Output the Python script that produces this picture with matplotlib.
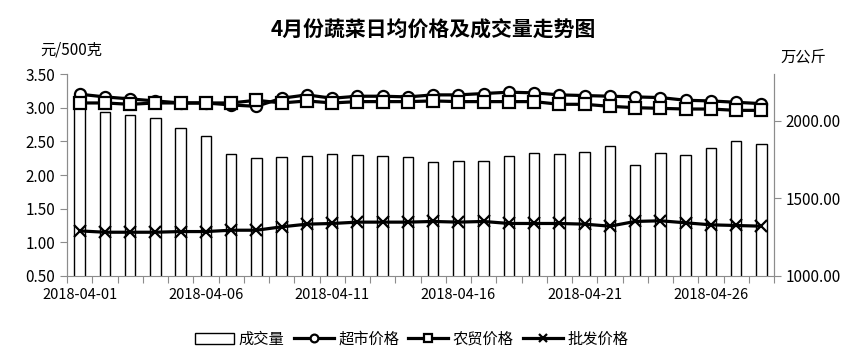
import numpy as np
import pandas as pd
import matplotlib
matplotlib.use("Agg")
import matplotlib.pyplot as plt

plt.rcParams['font.family'] = ['Noto Sans CJK SC', 'DejaVu Sans']

# 日期 (2018-04-01 ~ 2018-04-28)
fechas = pd.date_range("2018-04-01", "2018-04-28").strftime("%Y-%m-%d").tolist()

# 成交量 (万公斤)
volumen = [2110, 2057, 2034, 2015, 1950, 1899, 1783, 1757, 1764, 1770,
           1783, 1777, 1770, 1764, 1732, 1738, 1738, 1770, 1790, 1783,
           1796, 1835, 1712, 1792, 1777, 1822, 1867, 1848]

# 超市价格 (元/500克)
supermercado = [3.20, 3.16, 3.13, 3.10, 3.07, 3.07, 3.04, 3.02, 3.14, 3.19,
                3.14, 3.17, 3.17, 3.16, 3.19, 3.19, 3.21, 3.23, 3.22, 3.19,
                3.18, 3.17, 3.16, 3.15, 3.11, 3.10, 3.08, 3.06]

# 农贸价格
mercado = [3.07, 3.07, 3.05, 3.07, 3.07, 3.07, 3.07, 3.11, 3.07, 3.10,
           3.07, 3.09, 3.09, 3.09, 3.10, 3.09, 3.09, 3.09, 3.09, 3.05,
           3.05, 3.02, 3.00, 2.99, 2.98, 2.98, 2.96, 2.96]

# 批发价格
mayorista = [1.17, 1.15, 1.15, 1.15, 1.16, 1.16, 1.18, 1.18, 1.23, 1.27,
             1.28, 1.30, 1.30, 1.30, 1.31, 1.30, 1.31, 1.28, 1.28, 1.28,
             1.27, 1.24, 1.31, 1.32, 1.29, 1.26, 1.25, 1.24]

etiquetas = [f if i % 5 == 0 else "" for i, f in enumerate(fechas)]

gris = "#8c8c8c"
x = np.arange(len(fechas))

fig = plt.figure(figsize=(8.66, 3.57), dpi=100)
ax = fig.add_axes([0.0774, 0.2269, 0.8164, 0.5658])
ax2 = ax.twinx()

# barras en el eje derecho, detrás de las lineas
ax2.set_zorder(1)
ax.set_zorder(2)
ax.patch.set_visible(False)

barras = ax2.bar(x, volumen, width=0.42, color="white", edgecolor="black",
                 linewidth=1.0, label="成交量")
ax2.set_ylim(1000, 2300)
ax2.set_yticks([1000, 1500, 2000])
ax2.set_yticklabels(["%.2f" % v for v in [1000, 1500, 2000]])

l1, = ax.plot(x, supermercado, color="black", lw=2.3, marker="o", ms=8,
              mfc="white", mec="black", mew=1.6, label="超市价格")
l2, = ax.plot(x, mercado, color="black", lw=2.3, marker="s", ms=8,
              mfc="white", mec="black", mew=1.6, label="农贸价格")
l3, = ax.plot(x, mayorista, color="black", lw=2.3, marker="x", ms=8,
              mec="black", mew=1.6, label="批发价格")

ax.set_ylim(0.5, 3.5)
ax.set_yticks(np.arange(0.5, 3.51, 0.5))
ax.set_yticklabels(["%.2f" % v for v in np.arange(0.5, 3.51, 0.5)])
ax.set_xlim(-0.5, len(fechas) - 0.5)

# eje x: marcas entre categorias, etiquetas cada 5 dias
ax.set_xticks(np.arange(-0.5, len(fechas) + 0.5, 1), minor=False)
ax.set_xticklabels([""] * (len(fechas) + 1))
ax.set_xticks(x, minor=True)
ax.set_xticklabels(etiquetas, minor=True)
ax.tick_params(axis="x", which="major", length=5, color=gris, direction="out")
ax.tick_params(axis="x", which="minor", length=0, pad=9, labelsize=10.5)
ax.tick_params(axis="y", length=5, color=gris, labelsize=11)
ax2.tick_params(axis="y", length=5, color=gris, labelsize=11)

for a in (ax, ax2):
    a.spines["top"].set_visible(False)
    for s in ("left", "right", "bottom"):
        a.spines[s].set_color(gris)
ax2.spines["bottom"].set_visible(False)

fig.text(0.5, 0.915, "4月份蔬菜日均价格及成交量走势图", ha="center", va="center",
         fontsize=15, fontweight="bold")
fig.text(0.082, 0.86, "元/500克", ha="center", va="center", fontsize=11)
fig.text(0.928, 0.84, "万公斤", ha="center", va="center", fontsize=11)

fig.legend([barras, l1, l2, l3], ["成交量", "超市价格", "农贸价格", "批发价格"],
           loc="center", bbox_to_anchor=(0.475, 0.05), ncol=4, frameon=False,
           fontsize=11, handlelength=2.6, columnspacing=0.6, handletextpad=0.3,
           markerscale=0.7)

fig.savefig("out.png", dpi=100)
